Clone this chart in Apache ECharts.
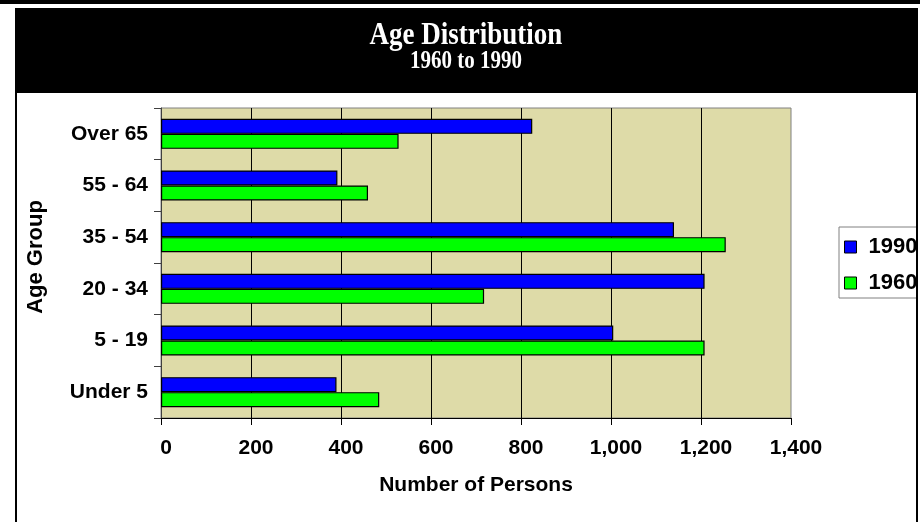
<!DOCTYPE html>
<html>
<head>
<meta charset="utf-8">
<title>Age Distribution</title>
<script src="https://cdn.jsdelivr.net/npm/echarts@6/dist/echarts.min.js"></script>
<style>
  html, body { margin: 0; padding: 0; background: #ffffff; }
  #chart { width: 920px; height: 522px; }
</style>
</head>
<body>
<div id="chart"></div>
<script>
// Age groups, bottom to top
const ageGroups = ['Under 5', '5 - 19', '20 - 34', '35 - 54', '55 - 64', 'Over 65'];
// Number of persons per age group
const persons1990 = [390, 1005, 1208, 1140, 392, 825];
const persons1960 = [485, 1208, 718, 1255, 460, 528];
// Value axis ticks
const axisMin = 0;
const axisMax = 1400;
const axisStep = 200;

const chart = echarts.init(document.getElementById('chart'), null, { renderer: 'canvas' });

const sansFamily = 'Liberation Sans, Arial, sans-serif';
const boldSans = (size) => ({ fontFamily: sansFamily, fontWeight: 'bold', fontSize: size, color: '#000' });
const serifBold = (size) => 'bold ' + size + 'px "Liberation Serif", serif';

chart.setOption({
  backgroundColor: '#ffffff',
  animation: false,
  legend: {
    orient: 'vertical',
    left: 839,
    top: 227,
    icon: 'rect',
    itemWidth: 12,
    itemHeight: 12,
    itemGap: 14,
    padding: [9, 8, 4, 5],
    borderColor: '#808080',
    borderWidth: 1,
    textStyle: Object.assign(boldSans(22), { padding: [0, 0, 0, 7] }),
    itemStyle: { borderColor: '#000', borderWidth: 1 }
  },
  grid: {
    left: 161,
    right: 129,
    top: 108,
    bottom: 104,
    show: true,
    backgroundColor: '#DEDBA8',
    borderColor: '#808080',
    borderWidth: 1
  },
  xAxis: {
    type: 'value',
    min: axisMin,
    max: axisMax,
    interval: axisStep,
    name: 'Number of Persons',
    nameLocation: 'middle',
    nameGap: 57,
    nameTextStyle: boldSans(21),
    axisLine: { show: true, lineStyle: { color: '#000', width: 1 } },
    axisTick: { show: true, length: 7, lineStyle: { color: '#000' } },
    axisLabel: Object.assign(boldSans(21), {
      margin: 20,
      padding: [0, 0, 0, 10],
      formatter: v => v.toLocaleString('en-US')
    }),
    splitLine: { show: true, showMinLine: false, showMaxLine: false, lineStyle: { color: '#000', width: 1 } }
  },
  yAxis: {
    type: 'category',
    data: ageGroups,
    axisLine: { show: true, lineStyle: { color: '#404040', width: 1 } },
    axisTick: { show: true, length: 7, lineStyle: { color: '#404040' } },
    axisLabel: Object.assign(boldSans(21), { margin: 13 }),
    splitLine: { show: false }
  },
  graphic: [
    // frame and title band
    { type: 'rect', shape: { x: 0, y: 0, width: 920, height: 4 }, style: { fill: '#000' }, z: 5 },
    { type: 'rect', shape: { x: 15, y: 8, width: 903, height: 85 }, style: { fill: '#000' }, z: 5 },
    { type: 'rect', shape: { x: 15, y: 93, width: 2, height: 429 }, style: { fill: '#000' }, z: 5 },
    { type: 'rect', shape: { x: 918, y: 93, width: 2, height: 429 }, style: { fill: '#fff' }, z: 20 },
    { type: 'rect', shape: { x: 916, y: 93, width: 2, height: 429 }, style: { fill: '#000' }, z: 21 },
    {
      type: 'text', x: 466, y: 36, z: 10, scaleY: 1.15,
      style: { text: 'Age Distribution', font: serifBold(27), fill: '#fff', textAlign: 'center', textVerticalAlign: 'middle' }
    },
    {
      type: 'text', x: 466, y: 62, z: 10, scaleY: 1.15,
      style: { text: '1960 to 1990', font: serifBold(21), fill: '#fff', textAlign: 'center', textVerticalAlign: 'middle' }
    },
    {
      type: 'text', x: 36, y: 257, rotation: Math.PI / 2, z: 5,
      style: {
        text: 'Age Group',
        fill: '#000',
        font: 'bold 22px "Liberation Sans", Arial, sans-serif',
        textAlign: 'center',
        textVerticalAlign: 'middle'
      }
    }
  ],
  series: [
    {
      name: '1990',
      type: 'bar',
      data: persons1990,
      barWidth: 15,
      barGap: '0%',
      itemStyle: { color: '#0000FF', borderColor: '#000', borderWidth: 1.2 }
    },
    {
      name: '1960',
      type: 'bar',
      data: persons1960,
      barWidth: 15,
      barGap: '0%',
      itemStyle: { color: '#00FF00', borderColor: '#000', borderWidth: 1.2 }
    }
  ]
});
</script>
</body>
</html>
